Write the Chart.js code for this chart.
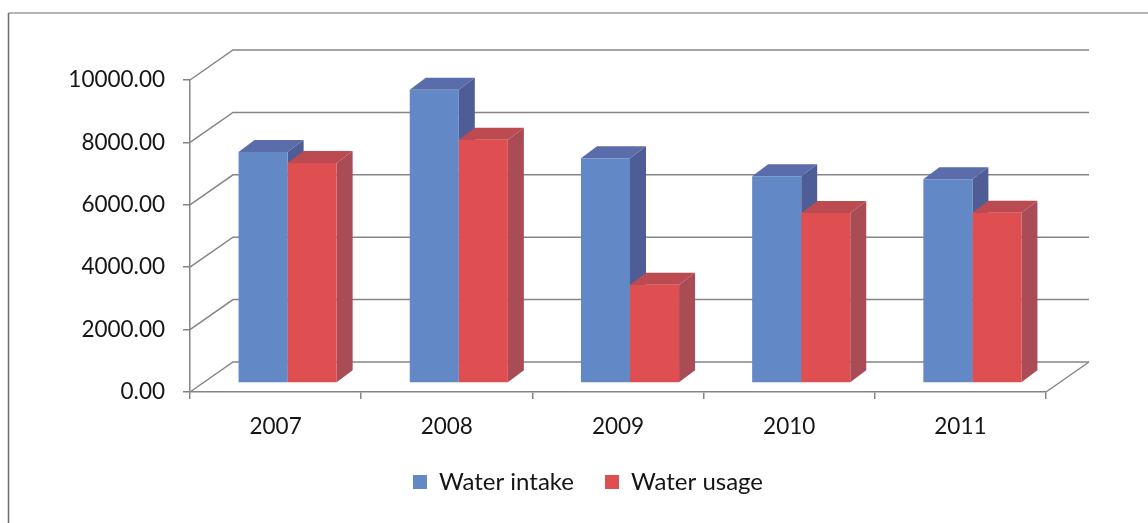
<!DOCTYPE html>
<html>
<head>
<meta charset="utf-8">
<script src="https://cdn.jsdelivr.net/npm/chart.js@4.4.1/dist/chart.umd.min.js"></script>
<style>
  html, body { margin: 0; padding: 0; background: #ffffff; overflow: hidden; }
  canvas { display: block; }
</style>
</head>
<body>
<canvas id="chart" width="1148" height="523"></canvas>
<script>
// Yearly water figures
const years = ['2007', '2008', '2009', '2010', '2011'];
const waterIntake = [7400, 9400, 7200, 6630, 6530];
const waterUsage = [7050, 7800, 3150, 5450, 5460];
const yTickValues = [0, 2000, 4000, 6000, 8000, 10000];

// Face shades for the box-shaped bars: [front, top, side]
const intakeShades = ['#6388c6', '#5a6ca9', '#4e5d95'];
const usageShades = ['#df4f52', '#bb4a51', '#a94c56'];

// Pseudo-3D geometry (pixels)
const WALL = { dx: 43, dy: -30 };     // depth of the back wall
const BAR_SHIFT = { dx: 12, dy: -9 }; // bars sit part-way into the floor
const BAR_DEPTH = { dx: 16, dy: -12 };
const LINE = '#858585';
const TEXT = '#151515';
const FONT = 'Lato, "Open Sans", sans-serif';

const framePlugin = {
  id: 'frame',
  beforeDraw(chart) {
    const ctx = chart.ctx;
    ctx.save();
    ctx.lineWidth = 1.5;
    ctx.strokeStyle = '#9c9c9c';
    ctx.beginPath();
    ctx.moveTo(8.5, 13);
    ctx.lineTo(chart.width, 13);
    ctx.stroke();
    ctx.strokeStyle = '#6e6e6e';
    ctx.beginPath();
    ctx.moveTo(8.5, 13);
    ctx.lineTo(8.5, chart.height);
    ctx.stroke();
    ctx.restore();
  }
};

function quad(ctx, pts, fill) {
  ctx.beginPath();
  ctx.moveTo(pts[0][0], pts[0][1]);
  for (let i = 1; i < pts.length; i++) ctx.lineTo(pts[i][0], pts[i][1]);
  ctx.closePath();
  ctx.fillStyle = fill;
  ctx.fill();
}

const boxPlugin = {
  id: 'box3d',
  beforeDatasetsDraw(chart) {
    const ctx = chart.ctx;
    const x = chart.scales.x, y = chart.scales.y;
    const l = x.left, r = x.right, b = y.bottom;

    // side wall, back wall grid and floor edge
    ctx.save();
    ctx.strokeStyle = LINE;
    ctx.lineWidth = 1.5;
    y.ticks.forEach(t => {
      const py = y.getPixelForValue(t.value);
      ctx.beginPath();
      ctx.moveTo(l, py);
      ctx.lineTo(l + WALL.dx, py + WALL.dy);
      ctx.lineTo(r + WALL.dx, py + WALL.dy);
      ctx.stroke();
    });
    ctx.beginPath();
    ctx.moveTo(r, b);
    ctx.lineTo(r + WALL.dx, b + WALL.dy);
    ctx.stroke();
    ctx.restore();

    // bars are drawn shifted into the floor; tops and sides first
    ctx.save();
    ctx.translate(BAR_SHIFT.dx, BAR_SHIFT.dy);
    chart.data.datasets.forEach((ds, i) => {
      const meta = chart.getDatasetMeta(i);
      const shades = ds.shades;
      meta.data.forEach(bar => {
        const p = bar.getProps(['x', 'y', 'base', 'width'], true);
        const x0 = p.x - p.width / 2, x1 = p.x + p.width / 2;
        const top = p.y, base = p.base;
        quad(ctx, [[x0, top], [x1, top], [x1 + BAR_DEPTH.dx, top + BAR_DEPTH.dy], [x0 + BAR_DEPTH.dx, top + BAR_DEPTH.dy]], shades[1]);
        quad(ctx, [[x1, top], [x1 + BAR_DEPTH.dx, top + BAR_DEPTH.dy], [x1 + BAR_DEPTH.dx, base + BAR_DEPTH.dy], [x1, base]], shades[2]);
      });
    });
    // keep the shift while the library draws the front faces
  },
  afterDatasetsDraw(chart) {
    chart.ctx.restore();
  }
};

const ctx = document.getElementById('chart').getContext('2d');
new Chart(ctx, {
  type: 'bar',
  data: {
    labels: years,
    datasets: [
      { label: 'Water intake', data: waterIntake, backgroundColor: intakeShades[0], shades: intakeShades },
      { label: 'Water usage', data: waterUsage, backgroundColor: usageShades[0], shades: usageShades }
    ]
  },
  options: {
    responsive: false,
    animation: false,
    devicePixelRatio: 1,
    categoryPercentage: 0.573,
    barPercentage: 1,
    clip: false,
    layout: { padding: { left: 60, right: 32, top: 80, bottom: 19 } },
    plugins: {
      tooltip: { enabled: false },
      legend: {
        position: 'bottom',
        labels: {
          boxWidth: 14,
          boxHeight: 14,
          padding: 31,
          color: TEXT,
          font: { family: FONT, size: 24 }
        }
      }
    },
    scales: {
      x: {
        afterFit(s) {
          const lh = s.chart.legend ? s.chart.legend.height : 0;
          s.height = 523 - 392 - 19 - lh;
        },
        grid: { offset: true, drawOnChartArea: false, drawTicks: true, tickLength: 7, color: LINE, lineWidth: 1.5 },
        border: { display: true, color: LINE, width: 1.5 },
        ticks: { padding: 14, color: TEXT, font: { family: FONT, size: 22.5 } }
      },
      y: {
        min: 0,
        max: 10000,
        afterFit(s) { s.width = 130; },
        afterBuildTicks(s) { s.ticks = yTickValues.map(v => ({ value: v })); },
        grid: { drawOnChartArea: false, drawTicks: true, tickLength: 7, color: LINE, lineWidth: 1.5 },
        border: { display: true, color: LINE, width: 1.5 },
        ticks: {
          padding: 18,
          color: TEXT,
          font: { family: FONT, size: 22.5 },
          callback: v => Number(v).toFixed(2)
        }
      },
      // empty right-hand margin column that keeps the plot clear of the right edge
      yRight: {
        position: 'right',
        display: true,
        afterFit(s) { s.width = 70; },
        grid: { display: false },
        border: { display: false },
        ticks: { display: false }
      }
    }
  },
  plugins: [framePlugin, boxPlugin]
});
</script>
</body>
</html>
